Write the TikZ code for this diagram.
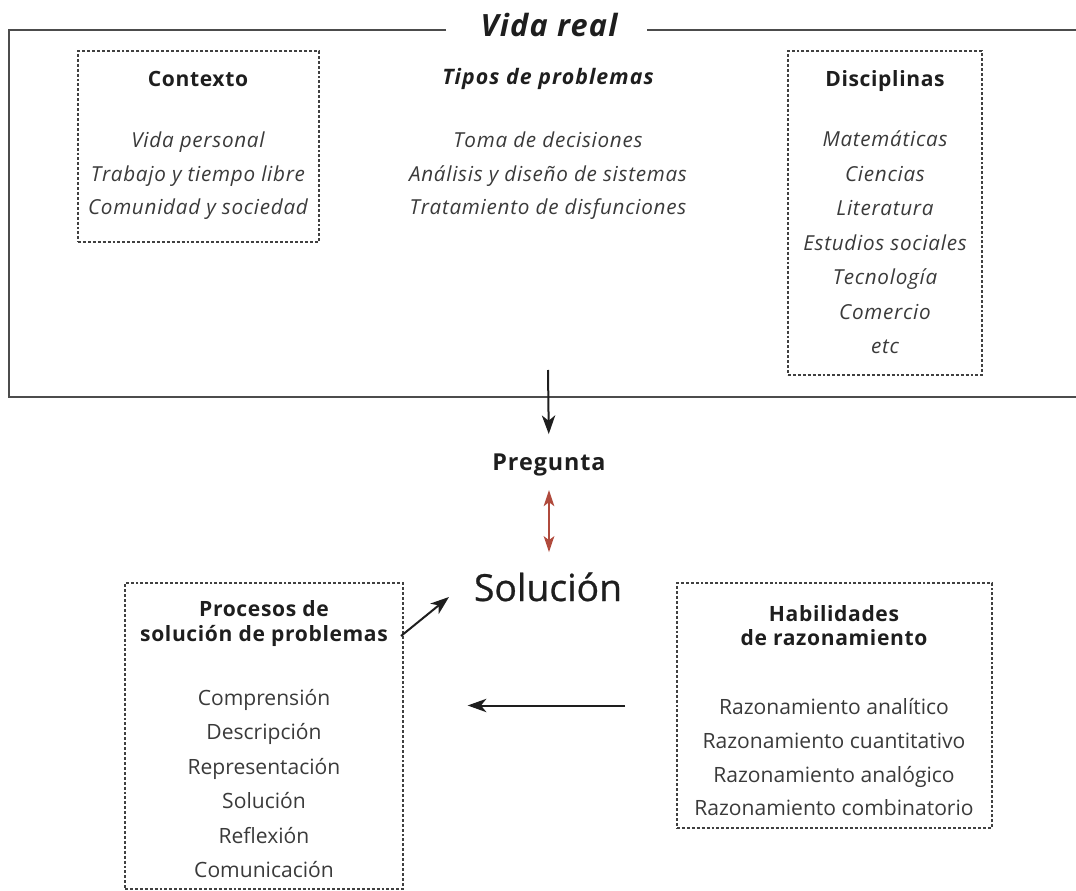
\documentclass[tikz,border=0pt]{standalone}
\usepackage{fontspec}
\setmainfont{Open Sans}
\usetikzlibrary{arrows.meta,fit}
\definecolor{ink}{HTML}{1E1E1E}
\definecolor{soft}{HTML}{3A3A3A}
\definecolor{redarr}{HTML}{B04A3C}
\begin{document}
\begin{tikzpicture}[x=0.75pt,y=-0.75pt,
  frame/.style={draw=black!70, line width=1.4pt},
  dbox/.style={draw=black!75, line width=0.9pt, dash pattern=on 2.2pt off 1.5pt, inner sep=0pt, outer sep=0pt},
  ttl/.style={font=\fontsize{15.8}{18}\selectfont\bfseries\addfontfeatures{LetterSpace=3}, text=ink, anchor=base, inner sep=0pt},
  ttli/.style={font=\fontsize{16}{18}\selectfont\bfseries\itshape\addfontfeatures{LetterSpace=5}, text=ink, anchor=base, inner sep=0pt},
  itm/.style={font=\fontsize{15.5}{17}\selectfont\itshape\addfontfeatures{LetterSpace=3.5}, text=soft, anchor=base, inner sep=0pt},
  reg/.style={font=\fontsize{15.8}{18}\selectfont, text=soft, anchor=base, inner sep=0pt},
  arr/.style={-{Stealth[length=14pt,width=10pt,inset=4pt]}, line width=1.5pt, draw=ink},
  rarr/.style={{Stealth[length=12pt,width=8pt,inset=3pt]}-{Stealth[length=12pt,width=8pt,inset=3pt]}, line width=1.2pt, draw=redarr},
]
\useasboundingbox (0,0) rectangle (1076,891);

% title and frame
\node[font=\fontsize{23}{26}\selectfont\bfseries\itshape\addfontfeatures{LetterSpace=4}, text=ink, anchor=base, inner sep=0pt] (vr) at (549,37) {Vida real};
\draw[frame] (446,30) -- (9,30) -- (9,397) -- (1076,397);
\draw[frame] (647,30) -- (1076,30);

% Contexto
\node[dbox, fit={(78,51) (319,242)}] (ctx) {};
\node[ttl] (ctxT) at (198,87) {Contexto};
\node[itm] (c1) at (198,148) {Vida personal};
\node[itm] (c2) at (198,181.5) {Trabajo y tiempo libre};
\node[itm] (c3) at (198,215) {Comunidad y sociedad};

% Tipos de problemas
\node[ttli] (tpT) at (548,85) {Tipos de problemas};
\node[itm] (t1) at (548,148) {Toma de decisiones};
\node[itm] (t2) at (548,181.5) {Análisis y diseño de sistemas};
\node[itm] (t3) at (548,215) {Tratamiento de disfunciones};

% Disciplinas
\node[dbox, fit={(788,51) (982,375)}] (dis) {};
\node[ttl] (disT) at (885,87) {Disciplinas};
\node[itm] (d1) at (885,147) {Matemáticas};
\node[itm] (d2) at (885,181.5) {Ciencias};
\node[itm] (d3) at (885,216) {Literatura};
\node[itm] (d4) at (885,250.5) {Estudios sociales};
\node[itm] (d5) at (885,285) {Tecnología};
\node[itm] (d6) at (885,319.5) {Comercio};
\node[itm] (d7) at (885,354) {etc};

% Pregunta / Solucion
\coordinate (frameout) at (548,370);
\node[font=\fontsize{17.5}{20}\selectfont\bfseries\addfontfeatures{LetterSpace=4}, text=ink, anchor=base, inner sep=0pt] (preg) at (549,471) {Pregunta};
\node[font=\fontsize{28}{32}\selectfont\addfontfeatures{FakeBold=0.7}, text=ink, anchor=base, inner sep=0pt] (sol) at (548,601) {Solución};
\draw[arr, shorten >=15pt] (frameout) -- (preg.north);
\draw[rarr, shorten <=10pt, shorten >=15pt] (preg.south -| 549,0) -- (sol.north -| 549,0);

% Procesos
\node[dbox, fit={(125,583) (403,889)}] (proc) {};
\node[ttl] (p0) at (264,617) {Procesos de};
\node[ttl] (p00) at (264,642) {solución de problemas};
\node[reg] (p1) at (264,705) {Comprensión};
\node[reg] (p2) at (264,739.5) {Descripción};
\node[reg] (p3) at (264,774) {Representación};
\node[reg] (p4) at (264,808.5) {Solución};
\node[reg] (p5) at (264,843) {Reflexión};
\node[reg] (p6) at (264,877.5) {Comunicación};

% Habilidades
\node[dbox, fit={(677,583) (992,828)}] (hab) {};
\node[ttl] (h0) at (834,621) {Habilidades};
\node[ttl] (h00) at (834,645) {de razonamiento};
\node[reg] (h1) at (834,714) {Razonamiento analítico};
\node[reg] (h2) at (834,748) {Razonamiento cuantitativo};
\node[reg] (h3) at (834,782) {Razonamiento analógico};
\node[reg] (h4) at (834,815) {Razonamiento combinatorio};

% connectors
\coordinate (dA) at (401,636);
\coordinate (dB) at (449,597);
\draw[arr] (dA) -- (dB);
\draw[arr, shorten <=39pt, shorten >=48.5pt] (hab.west) -- (hab.west -| proc.east);
\end{tikzpicture}
\end{document}
